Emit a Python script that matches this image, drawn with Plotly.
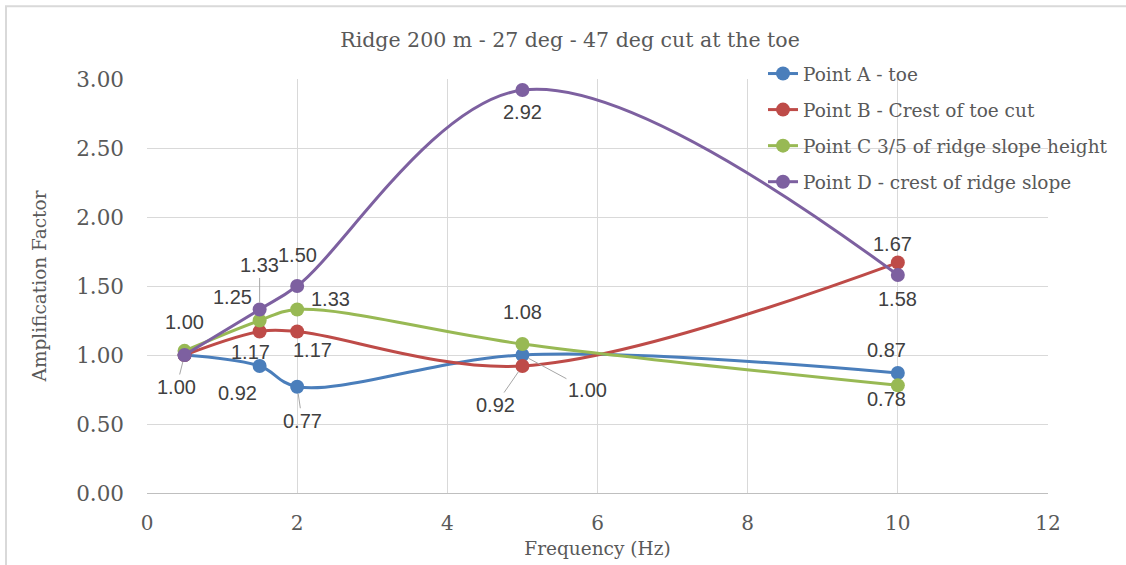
import plotly.graph_objects as go

# Frequency sweep and amplification factors at each monitoring point
freq = [0.5, 1.5, 2, 5, 10]
point_a = [1.00, 0.92, 0.77, 1.00, 0.87]
point_b = [1.00, 1.17, 1.17, 0.92, 1.67]
point_c = [1.03, 1.25, 1.33, 1.08, 0.78]
point_d = [1.00, 1.33, 1.50, 2.92, 1.58]

names = [
    "Point A - toe",
    "Point B - Crest of toe cut",
    "Point C 3/5 of ridge slope height",
    "Point D - crest of ridge slope",
]
colors = ["#4a7ebb", "#be4b48", "#98b954", "#7d60a0"]
series = [point_a, point_b, point_c, point_d]

x_ticks = [0, 2, 4, 6, 8, 10, 12]
y_ticks = [0, 0.5, 1.0, 1.5, 2.0, 2.5, 3.0]

SERIF = "DejaVu Serif"
SANS = "Liberation Sans"

fig = go.Figure()
for i, (name, col, vals) in enumerate(zip(names, colors, series)):
    fig.add_trace(go.Scatter(
        x=freq, y=vals, name=name, mode="lines+markers",
        line=dict(color=col, width=3, shape="spline", smoothing=1.0),
        marker=dict(color=col, size=14),
        legendgroup=f"g{i}",
    ))

# Data labels: (series index, point index, x offset px, y offset px, leader line)
labels = [
    (1, 0, 0, -33, False),
    (0, 0, -8, 32, True),
    (3, 1, 0, -44, True),
    (2, 1, -27, -24, False),
    (1, 1, -9, 20, False),
    (0, 1, -22, 27, False),
    (3, 2, 0, -31, False),
    (2, 2, 33, -10, False),
    (1, 2, 15, 18, False),
    (0, 2, 5, 34, True),
    (3, 3, 0, 22, False),
    (2, 3, 0, -32, False),
    (1, 3, -27, 39, True),
    (0, 3, 65, 35, True),
    (1, 4, -5, -19, False),
    (3, 4, 0, 24, False),
    (0, 4, -11, -23, False),
    (2, 4, -11, 14, False),
]
for s, p, dx, dy, leader in labels:
    val = series[s][p]
    txt = f"{val:.2f}"
    if leader:
        fig.add_annotation(
            x=freq[p], y=val, text=txt, showarrow=True,
            ax=dx, ay=dy, arrowhead=0, arrowwidth=1, arrowcolor="#a6a6a6",
            standoff=7, font=dict(family=SANS, size=20, color="#404040"),
        )
    else:
        fig.add_annotation(
            x=freq[p], y=val, text=txt, showarrow=False,
            xshift=dx, yshift=-dy,
            font=dict(family=SANS, size=20, color="#404040"),
        )

# Outer chart border
fig.add_shape(type="rect", xref="paper", yref="paper",
              x0=-0.1565, x1=1.2, y0=-0.3, y1=1.176,
              line=dict(color="#d9d9d9", width=2), fillcolor="rgba(0,0,0,0)",
              layer="below")

fig.update_layout(
    width=1126, height=565,
    margin=dict(l=147, r=78, t=79, b=72),
    paper_bgcolor="white", plot_bgcolor="white",
    title=dict(text="Ridge 200 m - 27 deg - 47 deg cut at the toe",
               x=570 / 1126, xanchor="center", y=1 - 40 / 565, yanchor="middle",
               font=dict(family=SERIF, size=20.5, color="#595959")),
    xaxis=dict(range=[0, 12], tickvals=x_ticks, showgrid=True, gridcolor="#d9d9d9",
               gridwidth=1, zeroline=False, showline=True, linecolor="#bfbfbf",
               linewidth=1, ticks="", ticklabelstandoff=12, automargin=False,
               tickfont=dict(family=SERIF, size=20, color="#595959"),
               title=dict(text="Frequency (Hz)", font=dict(family=SERIF, size=18.5, color="#595959"),
                          standoff=8)),
    yaxis=dict(range=[0, 3], tickvals=y_ticks, tickformat=".2f", showgrid=True,
               gridcolor="#d9d9d9", gridwidth=1, zeroline=False, showline=False,
               ticks="", ticklabelstandoff=22, automargin=False,
               tickfont=dict(family=SERIF, size=21.5, color="#595959"),
               title=dict(text="Amplification Factor",
                          font=dict(family=SERIF, size=18.5, color="#595959"), standoff=24)),
    legend=dict(x=(763 - 147) / 901, xanchor="left", y=(493.3 - 55) / 414.3, yanchor="top",
                bgcolor="rgba(0,0,0,0)", font=dict(family=SERIF, size=18.5, color="#595959"),
                tracegroupgap=9, traceorder="grouped"),
    showlegend=True,
)

fig.write_html("out.html")
